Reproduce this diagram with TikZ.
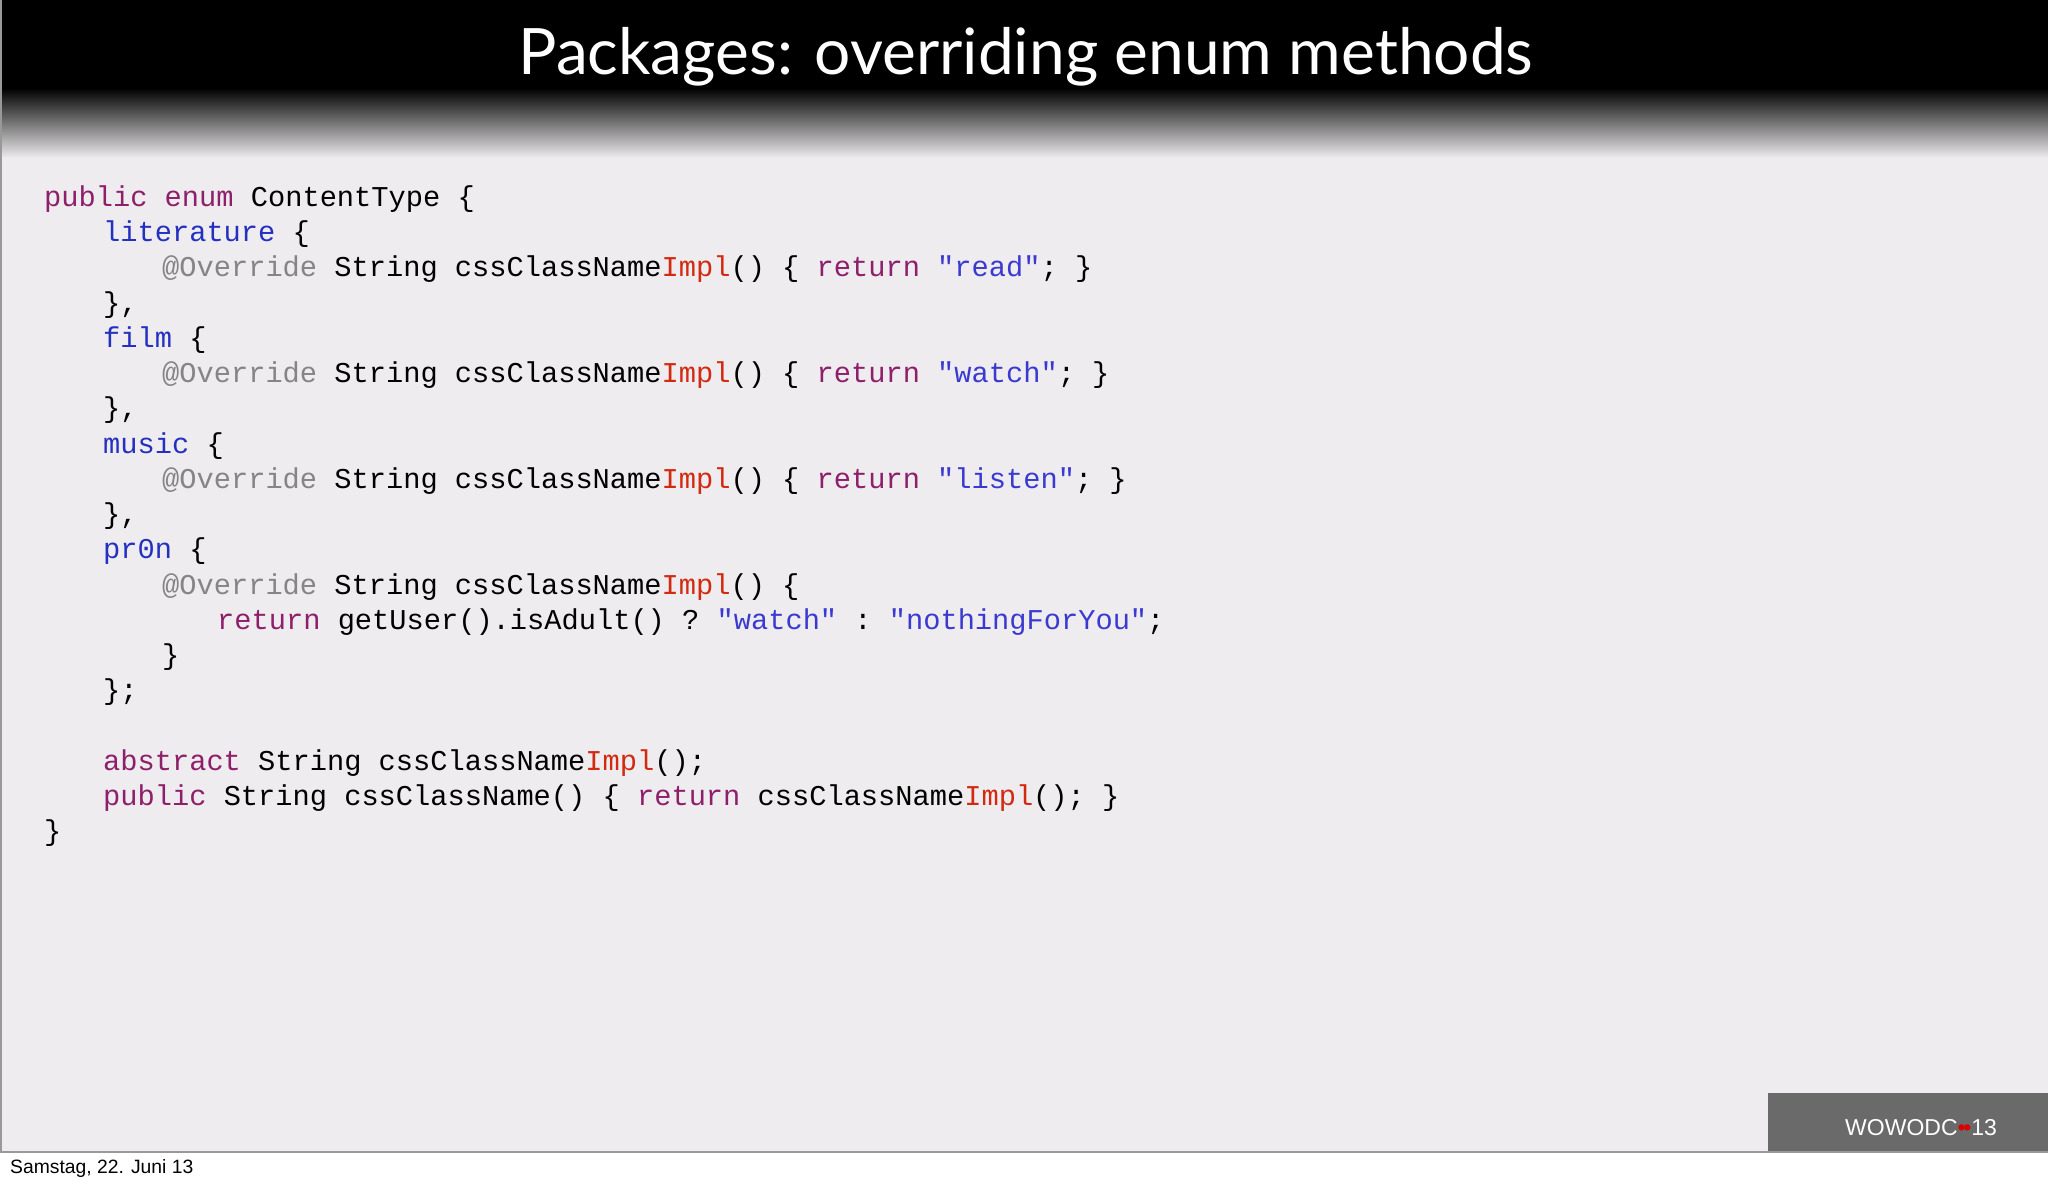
\documentclass[tikz,border=0pt]{standalone}
\usepackage{fontspec}
\setmonofont{Liberation Mono}
\newfontfamily\titlefont{Lato}
\newfontfamily\footfont{Liberation Sans}
\definecolor{ckwc}{HTML}{8E1F6A}
\definecolor{cidc}{HTML}{2430C0}
\definecolor{cannc}{HTML}{858585}
\definecolor{cimpc}{HTML}{D22A10}
\definecolor{cstrc}{HTML}{3A3AD0}
\definecolor{slidebg}{HTML}{EEECEE}
\newcommand\ckw[1]{\textcolor{ckwc}{#1}}
\newcommand\cid[1]{\textcolor{cidc}{#1}}
\newcommand\cann[1]{\textcolor{cannc}{#1}}
\newcommand\cimp[1]{\textcolor{cimpc}{#1}}
\newcommand\cstr[1]{\textcolor{cstrc}{#1}}
\begin{document}
\begin{tikzpicture}[x=1pt,y=-1pt,
  code/.style={anchor=base west,inner sep=0pt,font=\fontsize{28.7}{30}\ttfamily}]
\useasboundingbox (0,0) rectangle (2048,1184);
\fill[white] (0,0) rectangle (2048,1184);
\fill[slidebg] (0,0) rectangle (2048,1152);
\fill[black] (0,0) rectangle (2048,88);
\shade[top color=black,bottom color=slidebg] (0,88) rectangle (2048,158);
\draw[gray!80,line width=1.5pt] (0.75,0) -- (0.75,1152) -- (2048,1152);
\node[text=white,font=\fontsize{64}{70}\titlefont] (title) at (1026,57) {Packages: overriding enum methods};
\def\L#1{206.3+35.26*#1}
\node[code] (l0) at (44,{\L0}) {\ckw{public enum} ContentType \{};
\node[code] (l1) at (103,{\L1}) {\cid{literature} \{};
\node[code] (l2) at (162,{\L2}) {\cann{@Override} String cssClassName\cimp{Impl}() \{ \ckw{return} \cstr{"read"}; \}};
\node[code] (l3) at (103,{\L3}) {\},};
\node[code] (l4) at (103,{\L4}) {\cid{film} \{};
\node[code] (l5) at (162,{\L5}) {\cann{@Override} String cssClassName\cimp{Impl}() \{ \ckw{return} \cstr{"watch"}; \}};
\node[code] (l6) at (103,{\L6}) {\},};
\node[code] (l7) at (103,{\L7}) {\cid{music} \{};
\node[code] (l8) at (162,{\L8}) {\cann{@Override} String cssClassName\cimp{Impl}() \{ \ckw{return} \cstr{"listen"}; \}};
\node[code] (l9) at (103,{\L9}) {\},};
\node[code] (l10) at (103,{\L{10}}) {\cid{pr0n} \{};
\node[code] (l11) at (162,{\L{11}}) {\cann{@Override} String cssClassName\cimp{Impl}() \{};
\node[code] (l12) at (217,{\L{12}}) {\ckw{return} getUser().isAdult() ? \cstr{"watch"} : \cstr{"nothingForYou"};};
\node[code] (l13) at (162,{\L{13}}) {\}};
\node[code] (l14) at (103,{\L{14}}) {\};};
\node[code] (l16) at (103,{\L{16}}) {\ckw{abstract} String cssClassName\cimp{Impl}();};
\node[code] (l17) at (103,{\L{17}}) {\ckw{public} String cssClassName() \{ \ckw{return} cssClassName\cimp{Impl}(); \}};
\node[code] (l18) at (44,{\L{18}}) {\}};
\fill[black!55!slidebg] (1768,1093) rectangle (2048,1151);
\node[anchor=base west,inner sep=0pt,text=white,font=\fontsize{23}{26}\footfont] (logo) at (1845,1135) {WOWODC\textcolor{red!85!black}{\textbullet\kern-0.1em\textbullet}13};
\node[anchor=base west,inner sep=0pt,font=\fontsize{19.3}{21}\footfont] (date) at (10,1173) {Samstag, 22. Juni 13};
\end{tikzpicture}
\end{document}
